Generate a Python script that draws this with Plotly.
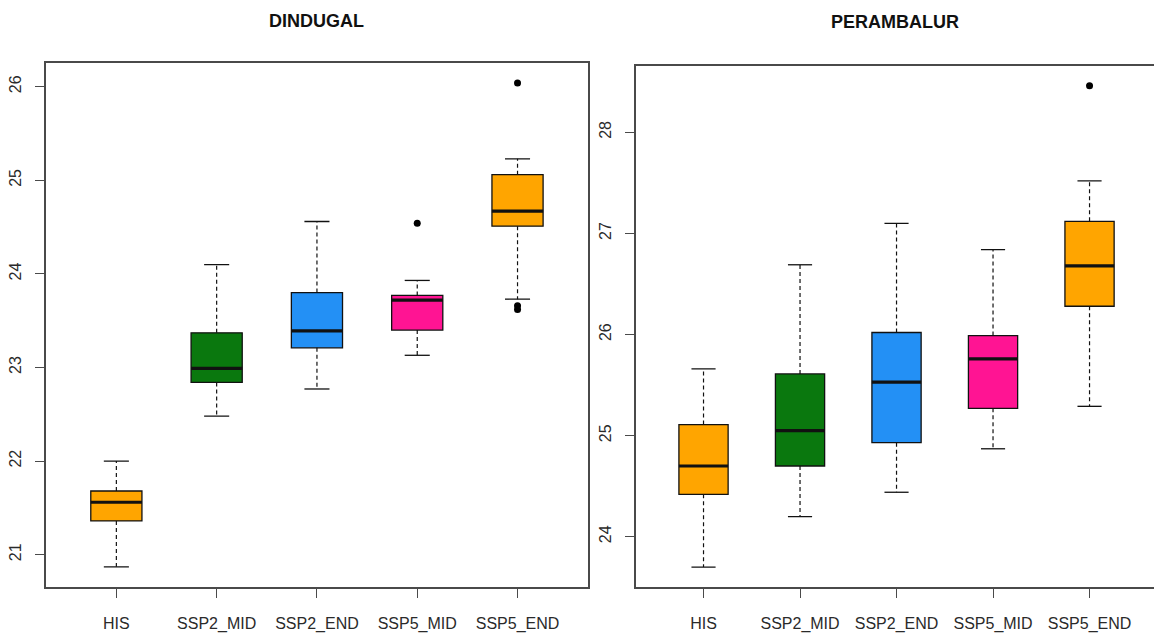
import plotly.graph_objects as go

categories = ["HIS", "SSP2_MID", "SSP2_END", "SSP5_MID", "SSP5_END"]
colors = ["#FFA500", "#0A780E", "#2390F5", "#FF1493", "#FFA500"]

# DINDUGAL box statistics
dind_lower = [20.87, 22.48, 22.77, 23.13, 23.73]
dind_q1 = [21.36, 22.84, 23.21, 23.40, 24.51]
dind_median = [21.56, 22.99, 23.39, 23.72, 24.67]
dind_q3 = [21.68, 23.37, 23.80, 23.77, 25.06]
dind_upper = [22.00, 24.10, 24.56, 23.93, 25.23]
dind_outliers = [[], [], [], [24.54], [26.04, 23.66, 23.62]]

# PERAMBALUR box statistics
per_lower = [23.70, 24.20, 24.44, 24.87, 25.29]
per_q1 = [24.42, 24.70, 24.93, 25.27, 26.28]
per_median = [24.70, 25.05, 25.53, 25.76, 26.68]
per_q3 = [25.11, 25.61, 26.02, 25.99, 27.12]
per_upper = [25.66, 26.69, 27.10, 26.84, 27.52]
per_outliers = [[], [], [], [], [28.46]]

dind_ticks = [21, 22, 23, 24, 25, 26]
per_ticks = [24, 25, 26, 27, 28]

positions = list(range(1, len(categories) + 1))
BOXW = 0.51
CAP = 0.125

fig = go.Figure()


def add_panel(lower, q1, med, q3, upper, outl, xa, ya):
    for i, p in enumerate(positions):
        fig.add_trace(go.Box(
            x=[p], q1=[q1[i]], median=[med[i]], q3=[q3[i]],
            lowerfence=[q1[i]], upperfence=[q3[i]],
            fillcolor=colors[i], line=dict(color="#111111", width=1.3),
            whiskerwidth=0, width=BOXW, boxpoints=False,
            xaxis=xa, yaxis=ya, hoverinfo="skip"))
    wx, wy, cx, cy, mx, my = [], [], [], [], [], []
    for i, p in enumerate(positions):
        wx += [p, p, None, p, p, None]
        wy += [q3[i], upper[i], None, q1[i], lower[i], None]
        cx += [p - CAP, p + CAP, None, p - CAP, p + CAP, None]
        cy += [upper[i], upper[i], None, lower[i], lower[i], None]
        mx += [p - BOXW / 2, p + BOXW / 2, None]
        my += [med[i], med[i], None]
    fig.add_trace(go.Scatter(x=wx, y=wy, mode="lines",
                             line=dict(color="#111111", width=1.2, dash="4px,3px"),
                             xaxis=xa, yaxis=ya, hoverinfo="skip"))
    fig.add_trace(go.Scatter(x=cx, y=cy, mode="lines",
                             line=dict(color="#111111", width=1.3),
                             xaxis=xa, yaxis=ya, hoverinfo="skip"))
    fig.add_trace(go.Scatter(x=mx, y=my, mode="lines",
                             line=dict(color="#111111", width=3.2),
                             xaxis=xa, yaxis=ya, hoverinfo="skip"))
    ox, oy = [], []
    for i, p in enumerate(positions):
        for v in outl[i]:
            ox.append(p)
            oy.append(v)
    fig.add_trace(go.Scatter(x=ox, y=oy, mode="markers",
                             marker=dict(color="black", size=7),
                             xaxis=xa, yaxis=ya, hoverinfo="skip"))


add_panel(dind_lower, dind_q1, dind_median, dind_q3, dind_upper, dind_outliers, "x", "y")
add_panel(per_lower, per_q1, per_median, per_q3, per_upper, per_outliers, "x2", "y2")

font = dict(family="Liberation Sans, Arial, sans-serif", size=16, color="#2a2a2a")
axcol = "#4a4a4a"

xcommon = dict(tickmode="array", tickvals=positions, ticktext=categories,
               ticks="outside", ticklen=9, tickcolor=axcol, tickwidth=1.3,
               showline=True, mirror=True, linecolor=axcol, linewidth=1.6,
               showgrid=False, zeroline=False, tickfont=font,
               ticklabelstandoff=12, automargin=False)
ycommon = dict(ticks="outside", ticklen=9, tickcolor=axcol, tickwidth=1.3,
               showline=True, linecolor=axcol, linewidth=1.6,
               showgrid=False, zeroline=False, tickfont=font, tickangle=-90,
               ticklabelstandoff=8, automargin=False)

fig.update_layout(
    width=1154, height=633,
    margin=dict(l=0, r=0, t=0, b=0),
    paper_bgcolor="white", plot_bgcolor="white",
    showlegend=False, boxmode="overlay",
    xaxis=dict(domain=[0.0400, 0.5093], range=[0.3, 5.7], anchor="y", **xcommon),
    yaxis=dict(domain=[0.0731, 0.9010], range=[20.657, 26.257], anchor="x",
               tickmode="array", tickvals=dind_ticks, mirror=True, **ycommon),
    xaxis2=dict(domain=[0.5511, 1.0], range=[0.3, 5.668], anchor="y2", **xcommon),
    yaxis2=dict(domain=[0.0722, 0.8962], range=[23.5, 28.659], anchor="x2",
                tickmode="array", tickvals=per_ticks, mirror=False, **ycommon),
    annotations=[
        dict(text="<b>DINDUGAL</b>", x=316 / 1154, y=1 - 21 / 633, xref="paper", yref="paper",
             showarrow=False, xanchor="center", yanchor="middle",
             font=dict(family="Liberation Sans, Arial, sans-serif", size=18, color="#111111")),
        dict(text="<b>PERAMBALUR</b>", x=894.5 / 1154, y=1 - 22 / 633, xref="paper", yref="paper",
             showarrow=False, xanchor="center", yanchor="middle",
             font=dict(family="Liberation Sans, Arial, sans-serif", size=18, color="#111111")),
    ],
)

fig.write_html("out.html")
